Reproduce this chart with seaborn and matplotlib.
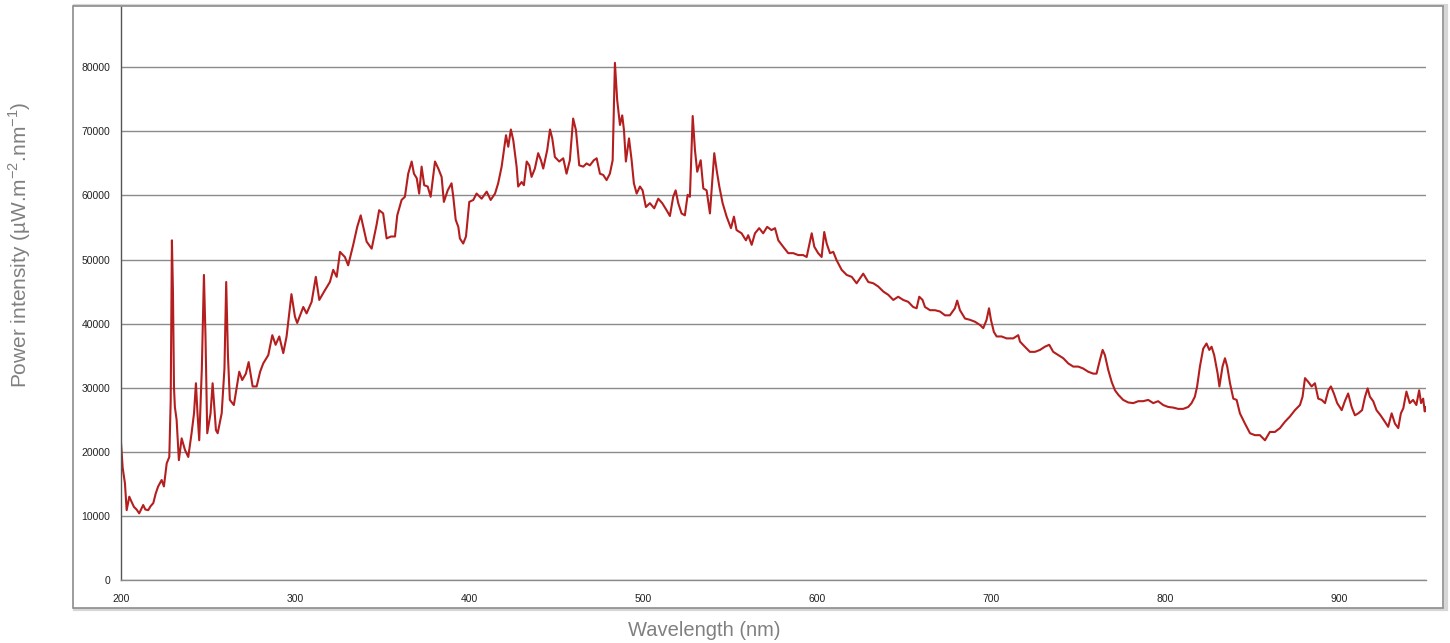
import numpy as np
import pandas as pd
import matplotlib
matplotlib.use("Agg")
import matplotlib.pyplot as plt
import seaborn as sns
from matplotlib.patches import Rectangle

# --------------------------------------------
# DATA
# --------------------------------------------
wavelength_nm = [
    200.0, 201.0, 202.3, 203.3, 204.8, 206.1, 207.5, 209.0, 210.5, 212.8,
    214.0, 215.7, 217.0, 218.6, 220.0, 221.4, 223.4, 224.7, 226.3, 227.8,
    228.6, 229.3, 229.9, 230.5, 231.0, 232.0, 233.3, 234.9, 236.8, 238.7,
    240.6, 242.0, 243.1, 244.0, 245.0, 246.5, 247.7, 248.6, 249.6, 251.5,
    252.7, 254.6, 255.6, 257.9, 259.5, 260.5, 261.5, 262.6, 264.9, 268.0,
    269.7, 271.8, 273.4, 275.7, 278.0, 280.0, 281.8, 284.7, 287.0, 288.9,
    291.0, 293.3, 295.2, 296.5, 298.0, 300.0, 301.3, 304.8, 306.7, 309.6,
    312.0, 314.0, 317.2, 320.1, 322.0, 324.0, 325.9, 328.7, 330.6, 333.5,
    335.8, 337.8, 339.3, 341.2, 344.1, 346.9, 348.4, 350.7, 352.7, 355.2,
    357.5, 358.8, 361.3, 363.2, 365.1, 367.1, 368.4, 370.0, 371.4, 372.8,
    374.3, 376.3, 378.0, 380.5, 382.4, 384.3, 385.6, 387.8, 390.0, 391.0,
    392.4, 393.9, 394.8, 396.7, 398.3, 400.2, 402.5, 404.4, 407.3, 410.2,
    412.5, 415.0, 416.8, 418.8, 421.3, 422.6, 424.1, 425.5, 427.4, 428.3,
    430.3, 431.6, 433.2, 434.7, 436.0, 437.9, 439.8, 441.4, 442.7, 445.0,
    446.6, 447.9, 449.4, 451.9, 454.2, 456.1, 458.0, 459.9, 461.5, 463.4,
    465.7, 467.6, 469.5, 471.8, 473.4, 475.3, 477.2, 479.1, 481.0, 482.6,
    483.9, 485.2, 486.8, 488.1, 489.1, 490.2, 492.0, 493.5, 494.8, 496.4,
    498.3, 499.8, 501.7, 504.0, 506.5, 508.8, 511.1, 513.6, 515.5, 517.4,
    518.8, 520.3, 522.2, 524.1, 525.7, 527.0, 528.6, 529.9, 531.2, 533.2,
    534.7, 536.6, 538.5, 541.0, 542.4, 543.9, 545.8, 548.1, 550.6, 552.3,
    553.8, 556.7, 559.2, 560.5, 562.5, 564.4, 566.8, 569.1, 571.4, 573.9,
    575.9, 577.8, 580.6, 583.5, 586.4, 589.3, 592.1, 594.1, 597.0, 598.5,
    600.7, 602.7, 604.2, 605.6, 607.5, 609.4, 611.3, 614.2, 617.1, 620.0,
    622.8, 626.6, 629.5, 632.4, 635.2, 638.2, 641.0, 643.9, 646.7, 649.6,
    652.5, 655.3, 657.3, 658.8, 660.7, 662.1, 665.0, 667.8, 670.7, 673.6,
    676.4, 679.3, 680.6, 682.2, 685.1, 687.9, 690.8, 693.7, 695.6, 697.5,
    698.9, 700.0, 701.7, 703.3, 706.1, 709.0, 712.8, 715.7, 716.7, 719.5,
    722.4, 725.3, 728.2, 731.0, 733.5, 735.8, 738.7, 741.6, 744.4, 747.3,
    750.2, 753.0, 755.9, 758.8, 760.7, 762.6, 764.2, 765.5, 767.4, 769.4,
    771.3, 773.2, 776.0, 778.9, 781.8, 784.7, 787.5, 790.4, 793.3, 796.1,
    799.0, 801.9, 804.8, 807.6, 810.5, 813.4, 815.3, 817.2, 818.5, 820.1,
    822.0, 823.9, 825.5, 826.8, 828.3, 830.3, 831.3, 833.1, 834.5, 835.8,
    837.4, 839.3, 841.2, 843.1, 846.0, 848.9, 851.7, 854.6, 857.5, 860.3,
    863.2, 866.1, 869.0, 871.8, 874.7, 877.6, 879.1, 880.5, 882.4, 884.3,
    886.2, 888.1, 890.1, 892.0, 893.9, 895.4, 897.1, 899.0, 901.6, 903.4,
    905.3, 907.3, 909.2, 911.1, 913.3, 915.0, 916.5, 917.8, 919.7, 921.6,
    923.9, 926.4, 928.3, 930.3, 932.2, 934.1, 935.6, 937.0, 938.8, 940.7,
    942.6, 944.5, 946.1, 947.2, 948.4, 949.3, 950.0,
]

power_intensity = [
    21600, 17500, 15100, 10900, 13000, 12200, 11400, 11000, 10400, 11700,
    11000, 10900, 11500, 12000, 13500, 14600, 15600, 14600, 18200, 19200,
    28000, 53000, 45000, 30000, 27000, 25000, 18700, 22100, 20300, 19200,
    22900, 26000, 30700, 26000, 21800, 33000, 47600, 38000, 22900, 26000,
    30700, 23400, 22900, 26000, 33000, 46500, 35000, 28100, 27300, 32500,
    31200, 32200, 34000, 30200, 30200, 32500, 33800, 35100, 38200, 36700,
    38000, 35400, 38000, 41000, 44600, 41100, 40100, 42600, 41600, 43400,
    47300, 43700, 45200, 46500, 48400, 47300, 51200, 50400, 49100, 52300,
    55100, 56900, 55100, 52800, 51700, 55400, 57700, 57200, 53300, 53600,
    53600, 56900, 59300, 59800, 63400, 65300, 63400, 62700, 60300, 64500,
    61600, 61400, 59800, 65300, 64200, 62900, 59000, 60800, 61900, 59800,
    56200, 55100, 53300, 52500, 53600, 59000, 59300, 60300, 59500, 60600,
    59300, 60300, 61900, 64500, 69400, 67600, 70300, 68600, 64500, 61400,
    62100, 61600, 65300, 64700, 62900, 64200, 66600, 65500, 64200, 67100,
    70300, 68900, 66000, 65300, 65800, 63400, 65500, 72000, 70200, 64700,
    64500, 65000, 64700, 65500, 65800, 63400, 63200, 62400, 63400, 65500,
    80700, 74900, 71000, 72500, 70200, 65300, 68900, 65500, 61900, 60300,
    61400, 60800, 58200, 58800, 58000, 59500, 58800, 57700, 56800, 59800,
    60800, 58800, 57200, 56900, 60100, 59800, 72400, 67100, 63700, 65500,
    61100, 60800, 57200, 66600, 63900, 61400, 58800, 56700, 54900, 56700,
    54600, 54100, 53000, 53800, 52300, 54100, 54900, 54100, 55100, 54600,
    54900, 53000, 52000, 51000, 51000, 50700, 50700, 50400, 54100, 52000,
    51000, 50400, 54300, 52500, 51000, 51200, 49900, 48400, 47600, 47300,
    46300, 47800, 46500, 46300, 45800, 45000, 44500, 43700, 44200, 43700,
    43400, 42600, 42400, 44200, 43700, 42600, 42100, 42100, 41900, 41300,
    41300, 42400, 43600, 42100, 40800, 40600, 40300, 39800, 39300, 40600,
    42400, 40600, 38700, 38000, 38000, 37700, 37700, 38200, 37200, 36400,
    35600, 35600, 35900, 36400, 36700, 35600, 35100, 34600, 33800, 33300,
    33300, 33000, 32500, 32200, 32200, 34300, 35900, 35100, 32800, 30900,
    29600, 28900, 28100, 27700, 27600, 27900, 27900, 28100, 27600, 27900,
    27300, 27000, 26900, 26700, 26700, 27000, 27600, 28600, 30200, 33300,
    36100, 36900, 35900, 36400, 35100, 32200, 30200, 33300, 34600, 33300,
    30700, 28300, 28100, 26000, 24400, 22900, 22600, 22600, 21800, 23100,
    23100, 23700, 24700, 25500, 26500, 27300, 28600, 31500, 30900, 30200,
    30700, 28300, 28100, 27600, 29600, 30200, 29100, 27600, 26500, 27900,
    29100, 27000, 25700, 26000, 26500, 28600, 29900, 28600, 27900, 26500,
    25700, 24700, 23900, 26000, 24400, 23700, 26000, 26800, 29400, 27600,
    28100, 27300, 29600, 27600, 28300, 26300, 27000,
]

x_ticks = [200, 300, 400, 500, 600, 700, 800, 900]
y_ticks = [0, 10000, 20000, 30000, 40000, 50000, 60000, 70000, 80000]

df = pd.DataFrame({"Wavelength": wavelength_nm, "Power": power_intensity})

# --------------------------------------------
# STYLE
# --------------------------------------------
sns.set_style("white")
plt.rcParams["font.family"] = ["Liberation Sans", "DejaVu Sans"]
plt.rcParams["mathtext.fontset"] = "custom"
plt.rcParams["mathtext.rm"] = "Liberation Sans"

fig = plt.figure(figsize=(14.5, 6.43), dpi=100)

# outer chart frame (with a light shadow), drawn behind the axes
fig.patches.append(Rectangle((0.0515, 0.0530), 0.9455, 0.9370, transform=fig.transFigure,
                             facecolor="none", edgecolor="#d6d6d6", linewidth=3, zorder=-20))
fig.patches.append(Rectangle((0.0505, 0.0545), 0.9450, 0.9360, transform=fig.transFigure,
                             facecolor="white", edgecolor="#8c8c8c", linewidth=1.2, zorder=-10))

ax = fig.add_axes([0.0834, 0.098, 0.9, 0.891])
ax.set_facecolor("none")
ax.set_zorder(5)

sns.lineplot(data=df, x="Wavelength", y="Power", color="#B41E1E", linewidth=1.5, ax=ax)

ax.set_xlim(200, 950)
ax.set_ylim(0, 89400)
ax.set_xticks(x_ticks)
ax.set_yticks(y_ticks)
ax.set_xticklabels([str(t) for t in x_ticks])
ax.set_yticklabels([str(t) for t in y_ticks])
ax.tick_params(axis="both", labelsize=7.5, colors="#222222", length=4, width=0.8, direction="out")
ax.tick_params(axis="x", pad=6)

ax.yaxis.grid(True, color="#8a8a8a", linewidth=1.0)
ax.xaxis.grid(False)
ax.set_axisbelow(True)

for side in ["top", "right"]:
    ax.spines[side].set_visible(False)
ax.spines["left"].set_color("#555555")
ax.spines["left"].set_linewidth(1.0)
ax.spines["bottom"].set_color("#8a8a8a")
ax.spines["bottom"].set_linewidth(1.0)

ax.set_xlabel("")
ax.set_ylabel("")

# axis titles sit outside the chart frame
fig.text(0.486, 0.019, "Wavelength (nm)", ha="center", va="center",
         fontsize=14.5, color="#808080")
fig.text(0.0135, 0.62, "Power intensity (µW.m$^{\\mathrm{-2}}$.nm$^{\\mathrm{-1}}$)",
         ha="center", va="center", rotation=90, fontsize=15, color="#808080")

plt.savefig("out.png", dpi=100)
